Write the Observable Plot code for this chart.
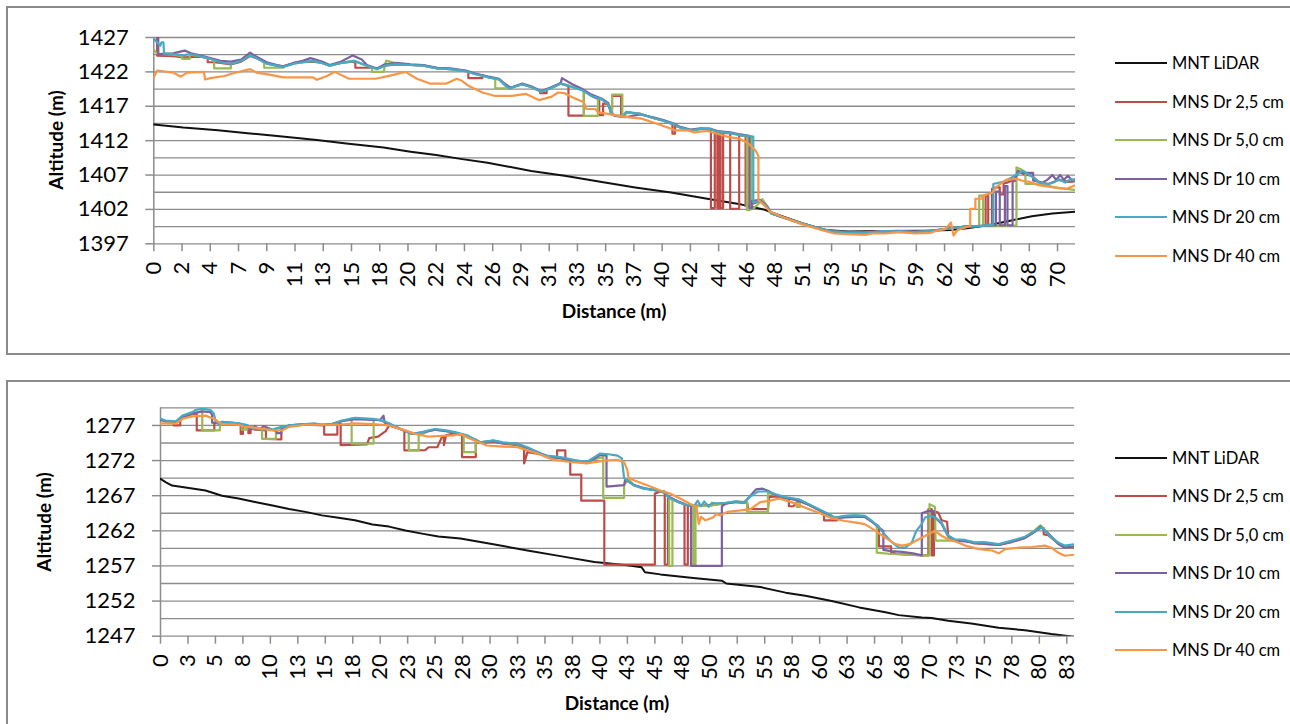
<!DOCTYPE html>
<html><head><meta charset="utf-8">
<script src="https://cdn.jsdelivr.net/npm/d3@7"></script>
<script src="https://cdn.jsdelivr.net/npm/@observablehq/plot@0.6"></script>
<style>
html,body{margin:0;padding:0;background:#fff;width:1290px;height:724px;overflow:hidden;font-family:Lato,sans-serif;color:#000;}
.panel{position:absolute;border:2px solid #8a8a8a;box-sizing:border-box;z-index:2;pointer-events:none;}
.chart{position:absolute;left:0;width:1100px;z-index:1;}
.ytitle{position:absolute;font-weight:bold;font-size:19px;transform:translate(-50%,-50%) rotate(-90deg);white-space:nowrap;}
.xtitle{position:absolute;font-weight:bold;font-size:19px;transform:translate(-50%,-50%);white-space:nowrap;}
.swatch{position:absolute;width:52px;height:2px;}
.ltext{position:absolute;font-size:16.5px;white-space:nowrap;transform:translateY(-50%);line-height:1;}
</style></head><body>
<script>
// ---------- shared series info ----------
const seriesNames = ["MNT LiDAR","MNS Dr 2,5 cm","MNS Dr 5,0 cm","MNS Dr 10 cm","MNS Dr 20 cm","MNS Dr 40 cm"];
const seriesColors = ["#111111","#BE4B48","#98B954","#7D60A0","#46AAC5","#F79646"];

// ---------- TOP PANEL ----------
const topXLabels = [0,2,4,7,9,11,13,15,18,20,22,24,26,29,31,33,35,37,40,42,44,46,48,51,53,55,57,59,62,64,66,68,70];
const topXStep = 2.2;
const topXMax = 71.8;
const topYLabels = [1397,1402,1407,1412,1417,1422,1427];

const top_mnt = [[0,1414.35],[2.3,1413.9],[5,1413.5],[7.5,1413.05],[10,1412.6],[12.7,1412.1],[15,1411.6],[17.9,1411.0],[20,1410.4],[22,1409.9],[23.9,1409.35],[26,1408.8],[29.4,1407.6],[32,1406.9],[34.9,1406.0],[37.5,1405.2],[40.3,1404.45],[43,1403.6],[45.8,1402.7],[47.5,1402.0],[48.5,1401.3],[50.5,1400.0],[52.3,1399.0],[54.1,1398.8],[57,1398.85],[60,1398.9],[62.1,1399.0],[63.5,1399.3],[65.3,1399.8],[66.8,1400.4],[68.4,1401.0],[70,1401.4],[71.9,1401.7]];

const top_dr25 = [[0,1428],[0.26,1428],[0.26,1424.35],[1.5,1424.3],[2.3,1424.1],[3.6,1424.2],[4.2,1424.0],[4.2,1423.4],[4.7,1423.4],[5.2,1423.3],[6.0,1423.1],[6.8,1423.5],[7.5,1424.3],[8.0,1424.0],[8.8,1423.2],[9.6,1422.9],[10.1,1422.8],[10.9,1423.3],[11.6,1423.4],[12.4,1423.5],[13.1,1423.3],[13.7,1422.9],[14.6,1423.3],[15.5,1423.5],[15.7,1423.3],[15.7,1422.6],[17.0,1422.6],[17.4,1422.5],[18.0,1422.9],[18.9,1423.1],[20.0,1423.0],[21.0,1422.9],[22.1,1422.5],[23.1,1422.4],[24.3,1422.1],[24.5,1422.0],[24.5,1421.1],[25.6,1421.1],[25.6,1421.5],[26.1,1421.2],[26.9,1420.9],[27.4,1420.0],[27.7,1419.6],[28.0,1419.8],[28.7,1420.2],[29.4,1419.8],[30.1,1419.2],[30.1,1418.9],[30.6,1418.9],[30.6,1419.4],[31.0,1419.7],[31.7,1420.3],[32.3,1420.0],[32.3,1415.65],[33.5,1415.65],[33.5,1419.3],[34.1,1418.5],[34.7,1418.0],[34.7,1415.7],[35.0,1415.7],[35.0,1417.4],[35.4,1417.3],[35.6,1416.5],[35.7,1416.5],[35.7,1418.5],[36.4,1418.5],[36.4,1415.5],[36.8,1416.1],[37.9,1415.9],[38.9,1415.3],[39.7,1414.9],[40.4,1414.4],[40.4,1413.0],[40.6,1413.0],[40.6,1414.2],[41.0,1413.9],[41.8,1413.5],[42.6,1413.7],[43.4,1413.6],[43.4,1402.2],[43.7,1402.2],[43.7,1413.3],[43.9,1413.3],[43.9,1402.2],[44.05,1402.2],[44.05,1413.2],[44.15,1413.2],[44.15,1402.2],[44.35,1402.2],[44.35,1413.1],[44.9,1413.1],[44.9,1402.1],[45.6,1402.1],[45.6,1412.8],[46.1,1412.7],[46.1,1402.5],[46.6,1402.8],[47.2,1403.2],[47.8,1402.3],[48.1,1401.4],[48.9,1400.9],[50.4,1400.0],[51.9,1399.2],[52.8,1398.8],[54.1,1398.6],[55.4,1398.7],[56.7,1398.8],[58.0,1398.8],[59.3,1398.7],[60.6,1398.9],[61.9,1399.2],[63.2,1399.5],[64.6,1399.6],[64.8,1399.6],[64.8,1404.0],[65.0,1404.0],[65.0,1399.6],[65.3,1399.7],[65.3,1405.0],[65.6,1405.2],[65.9,1405.2],[65.9,1404.2],[66.2,1404.2],[66.2,1405.8],[66.5,1405.9],[67.0,1406.3],[67.4,1407.5],[67.8,1407.1],[68.4,1406.9],[69.0,1405.9],[69.7,1405.7],[70.5,1406.3],[71.2,1406.0],[71.9,1406.1]];

const top_dr50 = [[0,1425.2],[0.3,1424.6],[1.5,1424.5],[2.2,1424.3],[2.2,1423.9],[2.8,1423.9],[2.8,1424.5],[3.6,1424.3],[4.4,1423.9],[4.7,1423.7],[4.7,1422.5],[6.0,1422.5],[6.0,1423.2],[6.8,1423.7],[7.5,1424.5],[8.0,1424.1],[8.6,1423.3],[8.6,1422.6],[10.1,1422.6],[10.1,1422.8],[10.9,1423.2],[11.6,1423.4],[12.4,1423.6],[13.1,1423.3],[13.7,1422.9],[14.6,1423.3],[15.6,1423.6],[16.6,1422.9],[17.0,1422.6],[17.0,1422.0],[17.9,1422.0],[18.1,1423.65],[18.9,1423.2],[20.0,1423.0],[21.0,1422.9],[22.1,1422.5],[23.1,1422.4],[24.3,1422.1],[25.0,1421.7],[26.1,1421.2],[26.6,1421.0],[26.6,1419.6],[27.5,1419.6],[28.0,1419.8],[28.7,1420.2],[29.4,1419.8],[30.2,1419.1],[31.0,1419.7],[31.7,1420.3],[32.6,1419.8],[33.5,1419.3],[33.5,1415.6],[34.6,1415.6],[34.6,1418.2],[34.9,1418.0],[35.4,1417.3],[35.6,1416.2],[35.7,1415.7],[35.7,1418.7],[36.5,1418.7],[36.5,1415.5],[36.8,1416.1],[37.9,1415.9],[38.9,1415.3],[39.7,1414.9],[40.5,1414.4],[41.0,1413.9],[41.8,1413.5],[42.6,1413.7],[43.3,1413.8],[43.9,1413.4],[44.9,1413.1],[45.7,1412.8],[46.2,1412.7],[46.2,1401.9],[46.4,1401.9],[46.4,1412.6],[46.55,1412.6],[46.55,1402.0],[47.0,1402.6],[47.4,1403.5],[47.8,1402.4],[48.1,1401.4],[48.9,1400.9],[50.4,1400.0],[51.9,1399.2],[52.8,1398.8],[54.1,1398.7],[55.4,1398.6],[56.7,1398.8],[58.0,1398.9],[59.3,1398.7],[60.6,1398.9],[61.9,1399.2],[63.2,1399.5],[64.3,1399.6],[64.3,1404.0],[64.6,1404.0],[64.6,1399.6],[67.2,1399.7],[67.2,1408.1],[67.6,1407.8],[67.9,1407.4],[67.9,1405.7],[68.6,1405.7],[69.5,1405.5],[70.5,1405.1],[71.9,1404.8]];

const top_dr10 = [[0,1428],[0.35,1428],[0.35,1424.6],[1.5,1424.7],[2.4,1425.1],[2.9,1424.7],[3.6,1424.4],[4.4,1424.0],[5.2,1423.6],[6.0,1423.5],[6.8,1423.8],[7.5,1424.8],[8.0,1424.2],[8.8,1423.4],[9.6,1423.0],[10.1,1422.8],[10.9,1423.3],[11.6,1423.6],[12.2,1424.0],[13.1,1423.5],[13.7,1423.0],[14.6,1423.5],[15.5,1424.4],[16.2,1423.8],[16.6,1423.0],[17.4,1422.5],[18.0,1423.1],[18.9,1423.3],[20.0,1423.1],[21.0,1423.0],[22.1,1422.6],[23.1,1422.5],[24.3,1422.2],[25.0,1421.8],[26.1,1421.3],[26.9,1421.0],[27.4,1420.2],[27.8,1419.7],[28.7,1420.3],[29.4,1419.9],[30.2,1419.2],[31.0,1419.8],[31.7,1420.4],[31.8,1421.1],[32.6,1420.2],[33.4,1419.5],[34.1,1418.7],[34.9,1418.1],[35.4,1417.5],[35.6,1416.0],[35.9,1415.6],[36.7,1415.4],[37.9,1415.8],[38.9,1415.4],[39.7,1415.0],[40.5,1414.5],[41.0,1414.0],[41.8,1413.6],[42.6,1413.8],[43.3,1413.7],[43.9,1413.4],[44.9,1413.2],[45.7,1412.9],[46.4,1412.7],[46.4,1402.2],[46.6,1402.2],[46.6,1403.2],[47.2,1403.4],[47.8,1402.4],[48.1,1401.5],[48.9,1400.9],[50.4,1400.0],[51.9,1399.2],[52.8,1398.8],[54.1,1398.7],[55.4,1398.6],[56.7,1398.8],[58.0,1398.8],[59.3,1398.8],[60.6,1398.9],[61.9,1399.2],[63.2,1399.5],[64.5,1399.6],[65.6,1399.7],[65.6,1404.6],[65.9,1404.6],[65.9,1399.7],[66.3,1399.7],[66.3,1405.4],[66.5,1405.4],[66.5,1399.7],[66.9,1399.7],[66.9,1406.0],[67.1,1406.2],[67.3,1407.6],[67.8,1407.3],[68.5,1407.3],[68.5,1406.2],[69.2,1405.9],[69.6,1406.3],[70.0,1407.0],[70.3,1406.3],[70.6,1407.0],[70.9,1406.3],[71.2,1406.9],[71.5,1406.3],[71.9,1406.4]];

const top_dr20 = [[0,1426.8],[0.5,1425.8],[0.6,1426.3],[0.75,1426.3],[0.8,1424.7],[1.5,1424.6],[2.3,1424.4],[2.8,1424.6],[3.6,1424.3],[4.4,1423.9],[5.2,1423.4],[6.0,1423.15],[6.8,1423.6],[7.5,1424.4],[8.0,1424.0],[8.8,1423.2],[9.6,1422.9],[10.1,1422.7],[10.9,1423.2],[11.6,1423.4],[12.4,1423.6],[13.1,1423.3],[13.7,1422.9],[14.6,1423.3],[15.6,1423.6],[16.6,1422.9],[17.4,1422.4],[18.0,1422.9],[18.9,1423.15],[20.0,1423.0],[21.0,1422.9],[22.1,1422.5],[23.1,1422.4],[24.3,1422.1],[25.0,1421.7],[26.1,1421.2],[26.9,1420.9],[27.4,1420.0],[27.7,1419.6],[28.0,1419.8],[28.7,1420.2],[29.4,1419.8],[30.2,1419.1],[31.0,1419.7],[31.7,1420.3],[32.6,1419.8],[33.4,1419.3],[34.1,1418.5],[34.9,1418.0],[35.4,1417.3],[35.6,1416.2],[35.9,1415.7],[36.7,1415.5],[36.8,1416.2],[37.9,1415.9],[38.9,1415.3],[39.7,1414.9],[40.5,1414.4],[41.0,1413.9],[41.8,1413.5],[42.6,1413.7],[43.3,1413.7],[43.9,1413.3],[44.9,1413.1],[45.7,1412.8],[46.7,1412.6],[46.7,1403.0],[47.2,1403.2],[47.8,1402.3],[48.1,1401.4],[48.9,1400.9],[50.4,1400.0],[51.9,1399.2],[52.8,1398.8],[54.1,1398.6],[55.4,1398.6],[56.7,1398.8],[58.0,1398.8],[59.3,1398.7],[60.6,1398.9],[61.9,1399.2],[63.2,1399.5],[64.5,1399.6],[65.4,1399.8],[65.4,1405.7],[66.3,1406.1],[66.8,1406.6],[67.4,1407.3],[67.7,1407.6],[68.3,1406.9],[69.0,1405.9],[69.7,1405.7],[70.2,1406.0],[70.5,1406.4],[71.0,1405.9],[71.4,1406.4],[71.9,1406.1]];

const top_dr40 = [[0,1421.2],[0.26,1422.2],[1.5,1421.9],[2.1,1421.3],[2.6,1421.9],[3.9,1422.0],[4.0,1420.9],[4.4,1421.1],[5.5,1421.4],[6.2,1421.8],[7.5,1422.4],[8.0,1421.9],[9.0,1421.6],[10.1,1421.2],[12.4,1421.2],[12.7,1420.85],[13.5,1421.4],[14.1,1422.0],[15.2,1421.0],[17.3,1421.0],[18.5,1421.5],[19.6,1422.0],[20.5,1421.0],[21.5,1420.3],[22.8,1420.3],[23.6,1421.0],[24.0,1420.7],[24.5,1420.0],[25.6,1419.0],[26.6,1418.5],[27.9,1418.5],[29.0,1418.8],[30.0,1417.9],[31.0,1418.4],[31.5,1419.0],[32.0,1418.9],[32.6,1418.3],[33.5,1417.6],[33.7,1416.6],[34.4,1416.6],[34.6,1416.1],[35.4,1415.9],[36.5,1415.5],[38.0,1415.2],[39.6,1414.2],[40.6,1413.5],[41.6,1413.5],[42.1,1413.2],[43.1,1413.4],[43.9,1413.0],[44.8,1412.5],[45.6,1412.3],[46.3,1411.6],[46.9,1410.5],[47.1,1409.8],[47.1,1403.3],[47.4,1402.9],[48.0,1401.7],[49.0,1400.9],[50.4,1399.9],[52.0,1399.0],[53.0,1398.5],[54.0,1398.4],[55.4,1398.3],[56.0,1398.5],[57.0,1398.5],[58.0,1398.7],[59.3,1398.5],[60.5,1398.6],[61.0,1398.9],[61.7,1399.2],[62.1,1400.1],[62.3,1398.2],[62.6,1399.0],[63.6,1399.6],[63.6,1402.1],[64.0,1402.1],[64.0,1403.55],[64.5,1403.55],[64.6,1404.0],[65.3,1404.4],[65.6,1405.2],[66.0,1405.8],[66.4,1406.3],[67.2,1406.45],[67.6,1406.2],[68.2,1406.0],[69.0,1405.5],[70.1,1405.2],[71.1,1405.0],[71.9,1405.6]];

// ---------- BOTTOM PANEL ----------
const botXLabels = [0,3,5,8,10,13,15,18,20,23,25,28,30,33,35,38,40,43,45,48,50,53,55,58,60,63,65,68,70,73,75,78,80,83];
const botXStep = 2.5;
const botXMax = 83.2;
const botYLabels = [1247,1252,1257,1262,1267,1272,1277];

const bot_mnt = [[0,1269.4],[0.5,1268.9],[1.06,1268.45],[2.58,1268.1],[4.1,1267.75],[5.6,1267.0],[7.1,1266.6],[8.6,1266.1],[10.2,1265.6],[11.7,1265.1],[13.2,1264.7],[14.7,1264.2],[16.2,1263.85],[17.7,1263.5],[19.3,1262.9],[20.8,1262.6],[22.3,1262.05],[23.8,1261.6],[25.3,1261.2],[27.3,1260.9],[30.3,1260.1],[33.4,1259.2],[36.4,1258.4],[39.5,1257.55],[42.5,1257.1],[43.8,1256.8],[44.1,1256.1],[45.5,1255.8],[48.5,1255.3],[51.1,1254.9],[51.5,1254.5],[54.6,1254.0],[56.9,1253.2],[58.7,1252.75],[61.1,1252.0],[63.6,1251.1],[66.0,1250.4],[67.2,1250.0],[69.3,1249.65],[70.2,1249.6],[71.7,1249.2],[73.8,1248.8],[76.3,1248.2],[78.7,1247.85],[81.1,1247.3],[83.2,1246.9]];

const bot_dr25 = [[0,1277.9],[0.45,1277.6],[1.2,1277.5],[1.2,1277.0],[1.8,1277.0],[1.8,1277.6],[2.0,1278.2],[2.9,1278.6],[3.3,1278.7],[3.3,1276.3],[4.9,1276.3],[4.9,1277.4],[5.6,1277.3],[7.1,1277.2],[7.3,1277.0],[7.3,1275.8],[7.5,1275.8],[7.5,1276.8],[8.0,1276.7],[8.0,1275.9],[8.2,1275.9],[8.2,1276.6],[8.6,1276.4],[9.6,1276.3],[9.6,1275.1],[11.0,1275.0],[11.0,1276.7],[11.7,1276.9],[13.2,1277.1],[14.9,1277.0],[14.9,1275.7],[16.1,1275.7],[16.1,1277.1],[16.4,1277.3],[16.4,1274.2],[18.8,1274.3],[19.0,1275.2],[19.8,1275.4],[20.5,1276.2],[20.8,1277.0],[22.0,1276.4],[22.2,1276.2],[22.2,1273.45],[24.1,1273.5],[24.4,1273.9],[25.2,1273.9],[25.6,1275.3],[25.8,1275.5],[25.8,1274.2],[26.0,1275.6],[26.8,1275.9],[27.45,1275.6],[27.45,1272.5],[28.7,1272.5],[28.7,1274.6],[29.1,1274.5],[30.3,1274.7],[31.2,1274.4],[32.5,1274.2],[33.1,1273.9],[33.1,1271.6],[33.4,1273.2],[34.6,1272.9],[35.2,1272.5],[36.1,1272.5],[36.1,1273.45],[36.85,1273.45],[36.85,1272.2],[37.3,1272.0],[37.3,1270.0],[38.3,1270.0],[38.3,1266.3],[40.4,1266.3],[40.4,1257.2],[45.0,1257.2],[45.0,1267.3],[45.5,1267.6],[45.9,1267.4],[45.9,1257.2],[46.2,1257.2],[46.2,1266.8],[47.1,1266.1],[47.7,1265.8],[47.7,1257.2],[48.0,1257.2],[48.0,1265.6],[49.0,1265.6],[50.2,1265.7],[51.5,1265.9],[52.4,1266.1],[53.4,1266.0],[53.5,1265.1],[55.3,1265.1],[55.4,1266.8],[56.0,1266.9],[56.9,1266.6],[57.2,1266.6],[57.2,1265.5],[57.6,1265.5],[58.1,1266.3],[59.0,1265.7],[59.9,1265.0],[60.4,1264.6],[60.4,1263.5],[61.6,1263.5],[61.6,1263.9],[62.3,1264.0],[63.2,1264.1],[64.1,1264.0],[64.75,1263.3],[65.4,1262.6],[65.4,1259.8],[66.5,1259.8],[66.5,1259.0],[67.0,1258.7],[69.5,1258.5],[69.9,1258.5],[69.9,1265.1],[70.2,1265.1],[70.2,1258.5],[70.4,1258.5],[70.4,1264.8],[70.8,1264.6],[71.1,1263.5],[71.6,1263.3],[71.7,1261.3],[72.3,1260.7],[73.25,1260.6],[74.1,1260.2],[76.3,1260.0],[77.5,1260.4],[78.7,1261.0],[79.6,1261.9],[80.1,1262.4],[80.4,1262.4],[80.4,1261.5],[80.8,1261.4],[81.7,1260.2],[82.3,1259.6],[83.2,1259.6]];

const bot_dr50 = [[0,1277.9],[0.45,1277.6],[1.4,1277.5],[2.0,1278.3],[2.9,1278.7],[3.8,1279.0],[3.8,1276.3],[5.4,1276.3],[5.4,1277.3],[5.6,1277.4],[7.1,1277.2],[7.4,1277.0],[7.4,1276.4],[7.9,1276.4],[7.9,1277.0],[8.6,1276.5],[9.25,1276.4],[9.25,1275.1],[10.5,1275.1],[10.5,1276.6],[11.7,1277.0],[13.2,1277.2],[14.7,1277.1],[15.6,1277.2],[16.5,1277.6],[17.4,1278.0],[17.4,1274.4],[19.4,1274.4],[19.4,1277.9],[20.2,1277.6],[20.8,1277.2],[22.0,1276.4],[22.6,1276.0],[22.6,1273.45],[23.5,1273.45],[23.5,1275.5],[24.4,1276.2],[25.0,1276.4],[26.8,1276.0],[27.6,1275.6],[27.6,1273.2],[28.7,1273.2],[28.7,1275.0],[29.1,1274.6],[30.3,1274.8],[31.2,1274.5],[32.5,1274.3],[33.4,1273.8],[34.6,1273.0],[35.2,1272.6],[36.4,1272.4],[37.6,1272.0],[38.8,1271.7],[39.5,1272.2],[40.3,1272.5],[40.3,1266.7],[42.2,1266.7],[42.2,1268.5],[42.6,1269.4],[43.1,1268.5],[44.0,1268.0],[45.0,1267.8],[45.9,1267.5],[46.3,1266.8],[46.3,1257.0],[46.6,1257.0],[46.6,1266.6],[47.1,1266.1],[48.0,1265.6],[48.5,1265.5],[48.5,1257.0],[48.7,1257.0],[48.7,1265.5],[50.2,1265.6],[51.5,1266.0],[52.4,1266.2],[53.4,1266.1],[53.4,1264.65],[55.3,1264.65],[55.3,1267.4],[56.0,1267.1],[56.9,1266.7],[57.9,1266.5],[57.9,1265.4],[58.2,1265.4],[58.2,1266.4],[59.0,1265.8],[59.9,1265.0],[60.8,1264.4],[61.0,1264.3],[61.0,1263.9],[61.4,1263.8],[62.3,1264.1],[63.2,1264.2],[64.1,1264.1],[64.75,1263.4],[65.2,1262.8],[65.2,1258.9],[66.5,1258.7],[68.0,1258.6],[69.5,1258.5],[70.0,1258.5],[70.0,1265.8],[70.5,1265.4],[70.55,1260.6],[71.7,1260.6],[72.3,1260.6],[73.25,1260.6],[74.1,1260.3],[76.3,1260.0],[77.5,1260.5],[78.7,1261.1],[79.6,1262.1],[80.1,1262.8],[80.8,1261.7],[81.7,1260.2],[82.3,1259.6],[83.2,1259.7]];

const bot_dr10 = [[0,1277.8],[0.45,1277.6],[1.4,1277.5],[2.0,1278.2],[2.9,1278.7],[3.8,1279.0],[4.55,1278.9],[4.7,1278.5],[4.7,1277.4],[5.3,1277.3],[5.6,1277.5],[7.1,1277.3],[7.8,1277.0],[8.2,1276.4],[8.6,1276.9],[9.0,1276.4],[9.4,1276.9],[10.2,1276.4],[10.6,1276.2],[10.6,1275.9],[11.0,1275.9],[11.0,1276.6],[11.7,1277.0],[13.2,1277.2],[14.7,1277.1],[15.6,1277.2],[16.5,1277.6],[17.7,1277.9],[19.3,1277.8],[20.0,1277.8],[20.3,1278.4],[20.4,1277.4],[20.8,1277.2],[22.0,1276.4],[22.9,1275.8],[24.4,1276.2],[25.0,1276.4],[26.8,1276.0],[27.9,1275.5],[29.1,1274.6],[30.3,1274.8],[31.2,1274.5],[32.5,1274.4],[33.4,1273.8],[34.6,1273.0],[35.2,1272.6],[36.4,1272.3],[37.6,1271.9],[38.8,1271.7],[39.5,1272.3],[40.0,1272.8],[40.6,1272.7],[40.6,1268.3],[42.2,1268.5],[42.3,1269.3],[43.1,1268.5],[44.0,1268.1],[45.0,1267.8],[45.9,1267.6],[46.2,1266.9],[47.1,1266.2],[48.0,1265.6],[48.3,1265.5],[48.3,1257.0],[51.1,1257.0],[51.1,1265.5],[51.5,1265.9],[52.4,1266.1],[53.1,1266.0],[53.7,1267.0],[54.2,1267.9],[54.8,1268.0],[55.3,1267.7],[56.0,1267.1],[56.9,1266.7],[58.1,1266.3],[59.0,1265.7],[59.9,1265.0],[60.8,1264.3],[61.4,1263.8],[62.3,1263.9],[63.2,1264.0],[64.1,1264.0],[64.75,1263.3],[65.3,1262.6],[65.8,1262.0],[65.8,1259.3],[66.5,1259.1],[67.5,1259.0],[68.5,1258.8],[69.3,1258.5],[69.3,1264.5],[69.8,1264.8],[70.4,1264.8],[70.5,1263.9],[71.1,1263.0],[71.7,1261.2],[72.3,1260.6],[73.25,1260.5],[74.1,1260.3],[76.3,1260.0],[77.5,1260.5],[78.7,1261.0],[79.6,1261.9],[80.1,1262.6],[80.8,1261.6],[81.7,1260.2],[82.3,1259.6],[83.2,1259.8]];

const bot_dr20 = [[0,1277.95],[0.45,1277.7],[1.4,1277.6],[2.0,1278.4],[2.9,1278.9],[3.2,1279.2],[3.8,1279.4],[4.55,1279.2],[4.85,1278.7],[5.0,1277.7],[5.3,1277.2],[5.6,1277.5],[7.1,1277.3],[7.8,1277.1],[8.6,1276.5],[10.2,1276.4],[11.1,1276.8],[11.7,1277.0],[13.2,1277.2],[14.0,1277.3],[14.7,1277.1],[15.6,1277.2],[16.5,1277.7],[17.7,1278.1],[19.3,1277.95],[20.2,1277.7],[20.8,1277.3],[22.0,1276.4],[22.9,1275.8],[23.5,1275.9],[24.4,1276.3],[25.0,1276.5],[26.0,1276.3],[26.8,1276.05],[27.9,1275.6],[29.1,1274.6],[30.3,1274.9],[31.2,1274.6],[32.5,1274.4],[33.4,1273.9],[34.6,1273.0],[35.2,1272.7],[36.4,1272.5],[37.6,1272.1],[38.8,1271.8],[39.5,1272.5],[40.0,1273.0],[40.8,1272.9],[41.6,1272.7],[42.0,1272.3],[42.2,1269.5],[43.1,1268.45],[44.0,1268.0],[45.0,1267.8],[45.9,1267.5],[46.2,1266.8],[47.1,1266.1],[48.0,1265.65],[48.6,1265.6],[48.9,1266.3],[49.2,1265.5],[49.5,1266.2],[49.9,1265.4],[50.2,1266.0],[50.6,1265.9],[51.5,1266.0],[52.4,1266.2],[53.1,1266.0],[53.7,1266.9],[54.4,1267.6],[55.3,1267.6],[56.0,1267.2],[56.9,1266.8],[58.1,1266.5],[59.0,1265.8],[59.9,1265.1],[60.8,1264.4],[61.4,1263.9],[62.3,1264.15],[63.2,1264.2],[64.1,1264.15],[64.75,1263.4],[65.3,1262.7],[65.9,1261.5],[66.6,1260.35],[67.2,1259.6],[67.8,1259.6],[68.4,1260.35],[68.8,1262.0],[69.3,1263.0],[69.6,1263.9],[70.1,1264.15],[70.5,1263.9],[71.1,1263.2],[71.7,1261.3],[72.3,1260.8],[73.25,1260.7],[74.1,1260.35],[75.0,1260.4],[76.3,1260.1],[77.5,1260.6],[78.7,1261.15],[79.6,1262.0],[80.2,1262.5],[80.8,1261.5],[81.7,1260.35],[82.3,1259.9],[83.2,1260.1]];

const bot_dr40 = [[0,1277.3],[1.4,1277.25],[2.0,1277.95],[2.9,1278.3],[4.1,1278.4],[4.85,1277.95],[5.6,1277.2],[7.1,1277.1],[7.7,1276.8],[8.6,1276.7],[10.2,1276.3],[11.1,1276.3],[11.7,1276.8],[13.2,1277.1],[14.7,1277.1],[16.2,1277.1],[17.7,1277.3],[19.3,1277.2],[20.8,1277.0],[22.3,1276.3],[23.2,1275.8],[24.4,1275.4],[25.3,1275.5],[26.8,1275.6],[27.3,1275.8],[28.2,1275.1],[29.7,1274.15],[31.2,1274.0],[32.5,1273.9],[34.3,1273.0],[35.8,1272.1],[37.3,1271.8],[38.8,1271.6],[40.4,1272.0],[41.6,1272.1],[42.2,1271.8],[42.5,1270.6],[42.6,1269.6],[43.1,1269.2],[44.3,1268.5],[45.5,1267.75],[46.4,1267.3],[47.3,1266.6],[48.2,1265.85],[48.8,1265.4],[49.0,1263.0],[49.2,1264.0],[49.6,1263.5],[50.3,1263.9],[50.6,1264.4],[50.95,1264.2],[51.6,1264.7],[52.8,1264.9],[53.7,1265.1],[54.6,1266.1],[55.5,1266.3],[56.3,1266.6],[57.5,1266.05],[58.7,1265.3],[60.2,1264.4],[61.1,1263.8],[62.3,1263.4],[63.2,1263.2],[64.1,1262.95],[65.1,1262.0],[65.9,1261.1],[66.9,1260.1],[67.5,1259.9],[68.2,1260.1],[69.0,1260.8],[69.9,1261.5],[70.5,1262.0],[71.1,1261.3],[71.7,1260.8],[72.6,1260.35],[73.25,1259.9],[74.5,1259.4],[75.7,1259.2],[76.3,1258.8],[76.9,1259.4],[78.1,1259.6],[79.3,1259.7],[80.5,1259.9],[81.1,1259.6],[81.7,1258.9],[82.3,1258.45],[83.2,1258.6]];

// ---------- drawing ----------
function drawPanel(cfg) {
  const W = 1100;
  const xPos = cfg.xLabels.map((_, i) => i * cfg.xStep);
  const labelOf = new Map(xPos.map((p, i) => [p, String(cfg.xLabels[i])]));
  const grid = d3.range(cfg.yDomain[0], cfg.yDomain[1] + 0.001, 2.5);
  const seriesData = [cfg.mnt, cfg.s25, cfg.s50, cfg.s10, cfg.s20, cfg.s40];
  const chart = Plot.plot({
    width: W,
    height: cfg.height,
    marginLeft: cfg.left,
    marginRight: W - cfg.right,
    marginTop: cfg.marginTop,
    marginBottom: cfg.marginBottom,
    style: {fontFamily: "Lato, sans-serif", fontSize: "22px", background: "transparent", color: "#000", overflow: "visible"},
    x: {domain: [0, cfg.xMax]},
    y: {domain: cfg.yDomain},
    marks: [
      Plot.ruleY(grid, {stroke: "#8c8c8c", strokeWidth: 1.3}),
      Plot.ruleX([0], {stroke: "#8c8c8c", strokeWidth: 1.5}),
      Plot.axisY(cfg.yLabels, {tickSize: 8, tickPadding: 17, stroke: "#8c8c8c", strokeWidth: 1.5, fill: "#000", fontSize: 22, label: null, tickFormat: d => String(d)}),
      Plot.axisX(xPos, {tickSize: 8, tickPadding: 10, tickRotate: -90, stroke: "#8c8c8c", strokeWidth: 1.5, fill: "#000", fontSize: 22, label: null, tickFormat: d => labelOf.get(d)}),
      ...seriesData.map((data, i) => Plot.line(data, {x: p => p[0], y: p => p[1], stroke: seriesColors[i], strokeWidth: i === 0 ? 2 : 2.2, clip: true}))
    ]
  });
  const wrap = document.createElement("div");
  wrap.className = "chart";
  wrap.style.top = cfg.top + "px";
  wrap.appendChild(chart);
  document.body.appendChild(wrap);

  const box = document.createElement("div");
  box.className = "panel";
  Object.assign(box.style, {left: "6px", top: cfg.boxTop + "px", width: "1300px", height: cfg.boxHeight + "px"});
  document.body.appendChild(box);

  const plotTop = cfg.top + cfg.marginTop;
  const plotBottom = cfg.top + cfg.height - cfg.marginBottom;
  const yt = document.createElement("div");
  yt.className = "ytitle"; yt.textContent = "Altitude (m)";
  yt.style.left = cfg.yTitleX + "px"; yt.style.top = ((plotTop + plotBottom) / 2) + "px";
  document.body.appendChild(yt);
  const xt = document.createElement("div");
  xt.className = "xtitle"; xt.textContent = "Distance (m)";
  xt.style.left = ((cfg.left + cfg.right) / 2) + "px"; xt.style.top = (plotBottom + 66.5) + "px";
  document.body.appendChild(xt);

  seriesNames.forEach((name, i) => {
    const y = cfg.legendTop + i * cfg.legendGap;
    const sw = document.createElement("div");
    sw.className = "swatch";
    Object.assign(sw.style, {left: "1115px", top: (y - 1) + "px", background: seriesColors[i]});
    document.body.appendChild(sw);
    const t = document.createElement("div");
    t.className = "ltext"; t.textContent = name;
    Object.assign(t.style, {left: "1172px", top: y + "px"});
    document.body.appendChild(t);
  });
}

drawPanel({top: 0, height: 360, marginTop: 37, marginBottom: 116.7, left: 153.3, right: 1075,
  xLabels: topXLabels, xStep: topXStep, xMax: topXMax, yDomain: [1397, 1427], yLabels: topYLabels,
  mnt: top_mnt, s25: top_dr25, s50: top_dr50, s10: top_dr10, s20: top_dr20, s40: top_dr40,
  boxTop: 6, boxHeight: 349, yTitleX: 55, legendTop: 63, legendGap: 38.6});

drawPanel({top: 370, height: 354, marginTop: 37.4, marginBottom: 88.3, left: 160, right: 1074,
  xLabels: botXLabels, xStep: botXStep, xMax: botXMax, yDomain: [1247, 1279.5], yLabels: botYLabels,
  mnt: bot_mnt, s25: bot_dr25, s50: bot_dr50, s10: bot_dr10, s20: bot_dr20, s40: bot_dr40,
  boxTop: 380, boxHeight: 360, yTitleX: 42.5, legendTop: 458, legendGap: 38.4});
</script>
</body></html>
